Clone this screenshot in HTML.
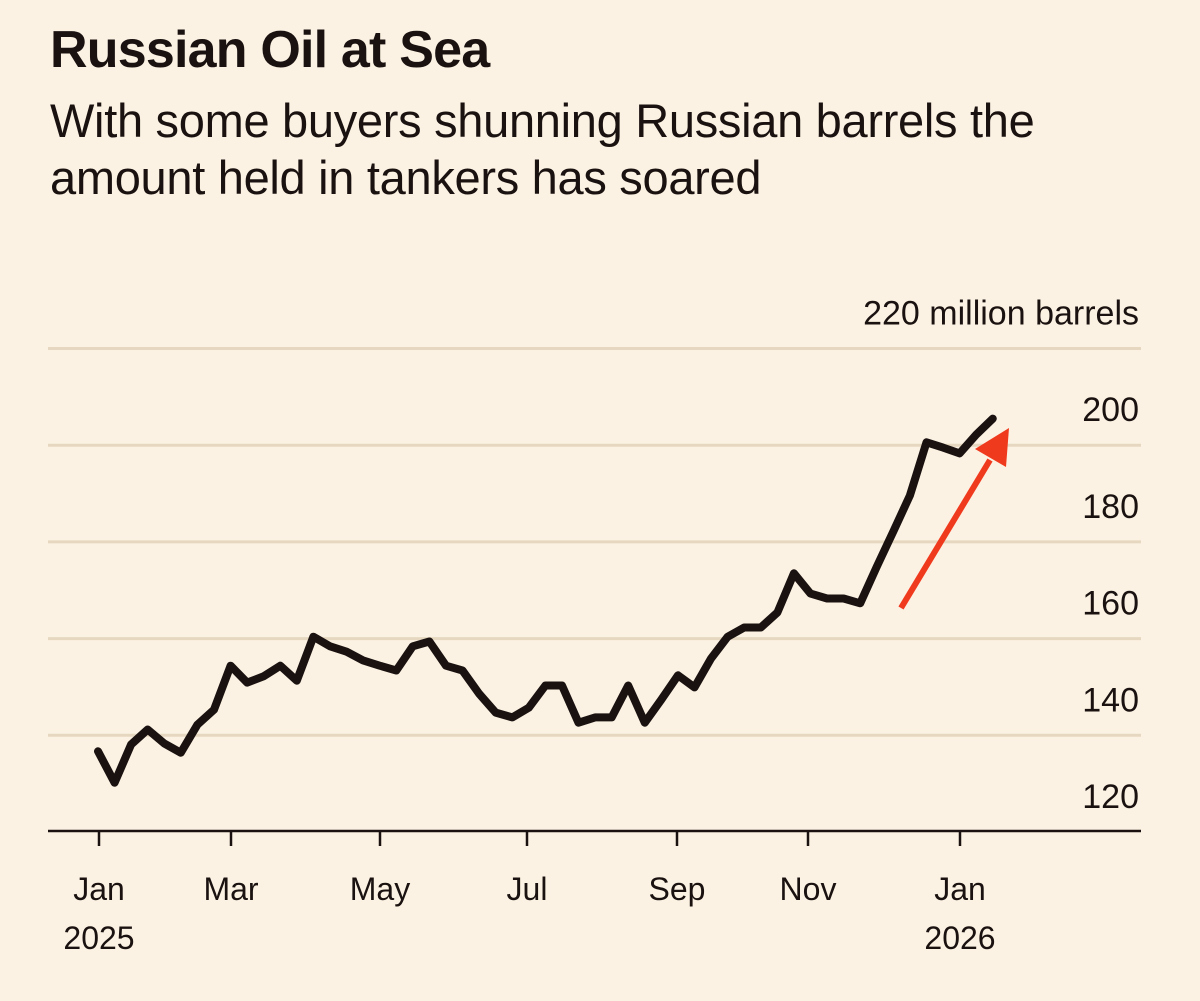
<!DOCTYPE html>
<html><head><meta charset="utf-8"><style>
body{margin:0;background:#fcf2e3;}
#wrap{position:relative;width:1200px;height:1001px;background:#fcf2e3;font-family:"Liberation Sans",sans-serif;color:#1a1210;overflow:hidden}
h1{position:absolute;left:50px;top:22px;margin:0;font-size:52px;font-weight:bold;letter-spacing:-0.8px;line-height:56px}
.sub{position:absolute;left:50px;top:92px;margin:0;font-size:47px;line-height:57px;font-weight:normal;letter-spacing:-0.3px;white-space:nowrap}
svg{position:absolute;left:0;top:0}
</style></head><body>
<div id="wrap">
<h1>Russian Oil at Sea</h1>
<p class="sub">With some buyers shunning Russian barrels the<br>amount held in tankers has soared</p>
<svg id="chart" width="1200" height="1001"></svg>
</div>
<script>
const values=[136.7,130.2,138.1,141.2,138.3,136.4,142.2,145.3,154.4,150.9,152.2,154.4,151.3,160.4,158.4,157.3,155.5,154.4,153.4,158.4,159.4,154.4,153.4,148.6,144.7,143.7,145.7,150.3,150.3,142.6,143.7,143.7,150.3,142.6,147.4,152.4,149.9,155.9,160.4,162.3,162.3,165.4,173.5,169.3,168.3,168.3,167.3,174.9,182.2,189.6,200.6,199.5,198.3,202.2,205.5];
const yTicks=[120,140,160,180,200,220];
const xTickLabels=["Jan","Mar","May","Jul","Sep","Nov","Jan"];
const xTickYears=["2025","","","","","","2026"];

const svg=document.getElementById('chart');
const NS='http://www.w3.org/2000/svg';
const y=v=>832-(v-120)*4.835;
const x=w=>98+w*16.57;
function el(t,a,txt){const e=document.createElementNS(NS,t);for(const k in a)e.setAttribute(k,a[k]);if(txt!==undefined)e.textContent=txt;svg.appendChild(e);return e;}
yTicks.forEach(v=>{
  if(v>120){const g=el('line',{x1:48,x2:1141,y1:y(v),y2:y(v),stroke:'#e6d8c0','stroke-width':3});
  
  }
  const t=el('text',{x:1139,y:y(v)-24,'text-anchor':'end','font-size':34,fill:'#1a1210','font-family':'Liberation Sans, sans-serif'},v===220?'220 million barrels':String(v));
  
  
});
const ax=el('line',{x1:48,x2:1141,y1:831,y2:831,stroke:'#1a1210','stroke-width':2.5});


xTickLabels.forEach((l,i)=>{
  const xx=[99,231,380,527,677,808,960][i];
  const tk=el('line',{x1:xx,x2:xx,y1:831,y2:846,stroke:'#1a1210','stroke-width':2.5});
  
  
  const t=el('text',{x:xx,y:900,'text-anchor':'middle','font-size':32,fill:'#1a1210','font-family':'Liberation Sans, sans-serif'},l);
  
  
  if(xTickYears[i]){const yt=el('text',{x:xx,y:949,'text-anchor':'middle','font-size':32,fill:'#1a1210','font-family':'Liberation Sans, sans-serif'},xTickYears[i]);
  
  }
});
const d=values.map((v,i)=>(i?'L':'M')+x(i).toFixed(1)+','+y(v).toFixed(1)).join('');
const p=el('path',{d:d,fill:'none',stroke:'#1a1210','stroke-width':8,'stroke-linejoin':'round','stroke-linecap':'round'});


const ar=el('line',{x1:901,y1:608,x2:990,y2:460,stroke:'#f03a1e','stroke-width':6});


const ah=el('polygon',{points:'1009,428 1006,467 975,449',fill:'#f03a1e'});


</script>
</body></html>
